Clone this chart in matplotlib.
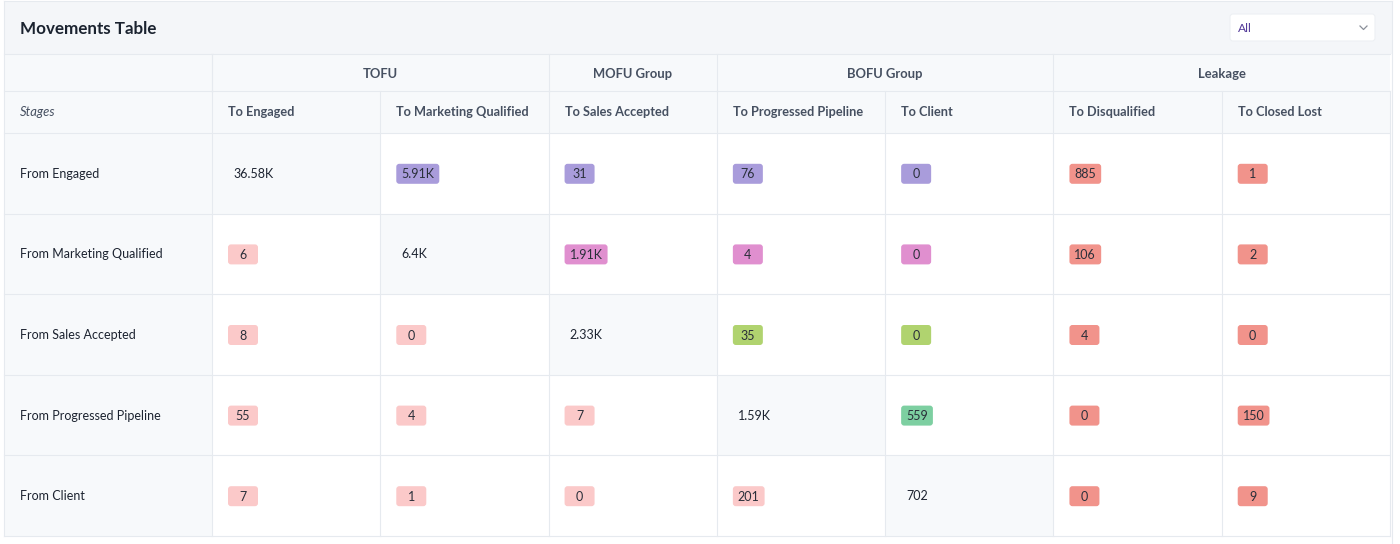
import matplotlib
matplotlib.use("Agg")
import matplotlib.pyplot as plt
from matplotlib.patches import Rectangle, FancyBboxPatch

# ---------------- data ----------------
title = "Movements Table"
dropdown_label = "All"
stub_header = "Stages"
row_labels = ["From Engaged", "From Marketing Qualified", "From Sales Accepted",
              "From Progressed Pipeline", "From Client"]
col_labels = ["To Engaged", "To Marketing Qualified", "To Sales Accepted",
              "To Progressed Pipeline", "To Client", "To Disqualified", "To Closed Lost"]
groups = ["TOFU", "MOFU Group", "BOFU Group", "Leakage"]
group_spans = [2, 1, 2, 2]          # number of columns under each group
values = [
    [36580, 5910, 31, 76, 0, 885, 1],
    [6, 6400, 1910, 4, 0, 106, 2],
    [8, 0, 2330, 35, 0, 4, 0],
    [55, 4, 7, 1590, 559, 0, 150],
    [7, 1, 0, 201, 702, 0, 9],
]
n_stage_cols = 5                    # columns that are funnel stages (rest = leakage)
forward_colors = ["#a99cdb", "#e08fcf", "#b0d36f", "#7dcfa1", "#7dcfa1"]
backward_color = "#fbc9c9"
leakage_color = "#f1938b"

# ---------------- style ----------------
W, H = 1400, 544
FONT = ["Lato", "DejaVu Sans"]
PX = 72 / 100  # px -> pt


def fmt(v):
    if v >= 1000:
        s = f"{v / 1000:.2f}".rstrip("0").rstrip(".")
        return s + "K"
    return str(v)


fig = plt.figure(figsize=(W / 100, H / 100), dpi=100)
ax = fig.add_axes([0, 0, 1, 1])
ax.set_xlim(0, W)
ax.set_ylim(H, 0)
ax.axis("off")
fig.patch.set_facecolor("white")

grid = "#e6eaef"
light = "#f7f9fb"
hdr_text = "#465061"
txt = "#1c2330"

# geometry
x0, x_stub = 4, 212
col_w = (1390 - x_stub) / len(col_labels)
col_x = [x_stub + i * col_w for i in range(len(col_labels) + 1)]
hdr1 = (54, 91)
hdr2 = (91, 133)
row_h = (536 - 133) / len(row_labels)
row_y = [133 + i * row_h for i in range(len(row_labels) + 1)]
x1 = col_x[-1]

# top bar
ax.add_patch(Rectangle((x0, 1), x1 + 2 - x0, 53, facecolor="#f4f6f9", edgecolor="none"))
ax.text(20, 28.5, title, fontsize=17 * PX, fontweight="bold", color="#1b2330",
        va="center", ha="left", family=FONT)
ax.add_patch(FancyBboxPatch((1230, 14), 145, 27, boxstyle="round,pad=0,rounding_size=3",
                            facecolor="white", edgecolor="#edf0f4", lw=0.8))
ax.text(1238, 28, dropdown_label, fontsize=12 * PX, color="#553c9a", va="center",
        ha="left", family=FONT)
ax.plot([1360, 1363.5, 1367], [26, 29.5, 26], color="#8a8f99", lw=0.9)

# header backgrounds
ax.add_patch(Rectangle((x0, hdr1[0]), x1 - x0, hdr2[1] - hdr1[0], facecolor=light,
                       edgecolor="none"))
# stub column background
ax.add_patch(Rectangle((x0, row_y[0]), x_stub - x0, row_y[-1] - row_y[0],
                       facecolor=light, edgecolor="none"))

# header row 1 (groups)
gx = x_stub
for g, span in zip(groups, group_spans):
    gx2 = gx + span * col_w
    ax.text((gx + gx2) / 2, (hdr1[0] + hdr1[1]) / 2 + 1, g, fontsize=13 * PX,
            fontweight="bold", color=hdr_text, ha="center", va="center", family=FONT)
    ax.plot([gx, gx], hdr1, color=grid, lw=0.8)
    gx = gx2

# header row 2
ax.text(20, (hdr2[0] + hdr2[1]) / 2 + 0.5, stub_header, fontsize=13 * PX, style="italic",
        color=hdr_text, ha="left", va="center", family=FONT)
for j, c in enumerate(col_labels):
    ax.text(col_x[j] + 16, (hdr2[0] + hdr2[1]) / 2 + 0.5, c, fontsize=12.8 * PX,
            fontweight="bold", color=hdr_text, ha="left", va="center", family=FONT)

renderer = fig.canvas.get_renderer()

# data rows
for i, rl in enumerate(row_labels):
    yc = (row_y[i] + row_y[i + 1]) / 2 + 0.5
    ax.text(20, yc, rl, fontsize=12.5 * PX, color=txt, ha="left", va="center",
            family=FONT)
    for j, v in enumerate(values[i]):
        s = fmt(v)
        if j == i:
            ax.add_patch(Rectangle((col_x[j], row_y[i]), col_w, row_h, facecolor=light,
                                   edgecolor="none"))
            ax.text(col_x[j] + 21, yc, s, fontsize=12.5 * PX, color=txt, ha="left",
                    va="center", family=FONT)
            continue
        if j >= n_stage_cols:
            color = leakage_color
        elif j < i:
            color = backward_color
        else:
            color = forward_colors[i]
        t = ax.text(0, yc + 0.5, s, fontsize=12.5 * PX, color="#2a2f3a", ha="center",
                    va="center", family=FONT, zorder=4)
        tw = t.get_window_extent(renderer).width
        bw = max(30, tw + 10)
        bx = col_x[j] + 16
        ax.add_patch(FancyBboxPatch((bx, yc - 10), bw, 20,
                                    boxstyle="round,pad=0,rounding_size=3",
                                    facecolor=color, edgecolor="none", zorder=3))
        t.set_x(bx + bw / 2)

# grid lines
for y in [hdr1[0], hdr1[1], hdr2[1]] + row_y[1:]:
    ax.plot([x0, x1], [y, y], color=grid, lw=0.8, zorder=5)
for x in col_x:
    ax.plot([x, x], [hdr2[0], row_y[-1]], color=grid, lw=0.8, zorder=5)
ax.plot([x_stub, x_stub], [hdr1[0], hdr2[0]], color=grid, lw=0.8, zorder=5)
ax.plot([x0, x0], [1, row_y[-1]], color=grid, lw=0.8, zorder=5)
ax.plot([x1 + 2, x1 + 2], [1, row_y[-1] + 8], color=grid, lw=0.8, zorder=5)
ax.plot([x0, x1 + 2], [1, 1], color=grid, lw=0.8, zorder=5)

fig.savefig("out.png", dpi=100, facecolor="white")
